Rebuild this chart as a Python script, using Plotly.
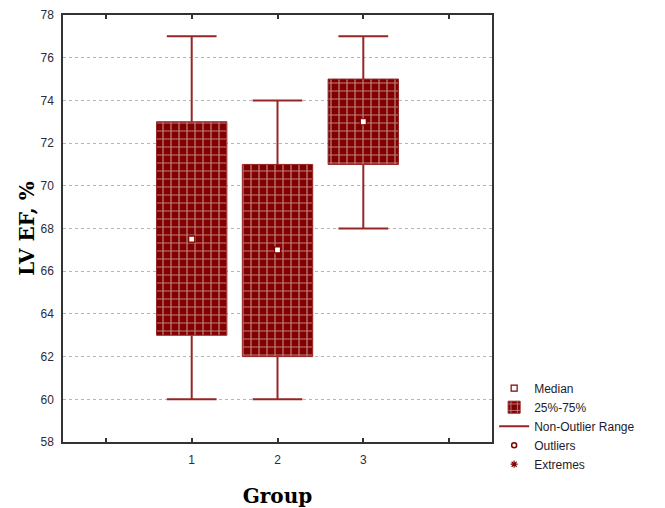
import plotly.graph_objects as go

# ---- data ----
groups = [1, 2, 3]
mins = [60, 60, 68]
q1 = [63, 62, 71]
medians = [67.5, 67, 73]
q3 = [73, 71, 75]
maxs = [77, 74, 77]
x_tickvals = [0, 1, 2, 3, 4]
x_ticktext = ["", "1", "2", "3", ""]

DARK = "#800000"
LINE = "#962626"
BOX_W = 0.82
CAP_HALF = 0.29

fig = go.Figure()

# 25%-75% boxes
fig.add_trace(go.Bar(
    x=groups, y=[b - a for a, b in zip(q1, q3)], base=q1, width=BOX_W,
    name="25%-75%", legendrank=2,
    marker=dict(color=DARK, line=dict(color=LINE, width=1),
                pattern=dict(shape="+", fgcolor="white", bgcolor=DARK,
                             size=8, solidity=0.28)),
    hoverinfo="skip",
))

# whiskers (non-outlier range)
wx, wy = [], []
for g, lo, a, b, hi in zip(groups, mins, q1, q3, maxs):
    wx += [g, g, None, g - CAP_HALF, g + CAP_HALF, None,
           g, g, None, g - CAP_HALF, g + CAP_HALF, None]
    wy += [b, hi, None, hi, hi, None,
           a, lo, None, lo, lo, None]
fig.add_trace(go.Scatter(
    x=wx, y=wy, mode="lines", name="Non-Outlier Range", legendrank=3,
    line=dict(color=LINE, width=2), hoverinfo="skip",
))

# medians
fig.add_trace(go.Scatter(
    x=groups, y=medians, mode="markers", name="Median", legendrank=1,
    marker=dict(symbol="square", size=6, color="white",
                line=dict(color=DARK, width=1.2)),
))

# outliers / extremes (none present)
fig.add_trace(go.Scatter(
    x=[None], y=[None], mode="markers", name="Outliers", legendrank=4,
    marker=dict(symbol="circle-open", size=5, color=DARK, line=dict(width=1.5)),
))
fig.add_trace(go.Scatter(
    x=[None], y=[None], mode="markers", name="Extremes", legendrank=5,
    marker=dict(symbol="asterisk-open", size=6, color=DARK, line=dict(width=1.2)),
))

tickfont = dict(family="Liberation Sans, Arial", size=12, color="#2b2b3b")
titlefont = dict(family="DejaVu Serif", size=20, color="black", weight="bold")

# page body adds an 8px offset, so the figure is sized/margined to compensate
fig.update_layout(
    width=657, height=500,
    margin=dict(l=55, r=173, t=7, b=66, autoexpand=False),
    paper_bgcolor="white", plot_bgcolor="white",
    showlegend=True,
    legend=dict(x=1.005, xanchor="left", y=0.16, yanchor="top",
                font=dict(family="Liberation Sans, Arial", size=12, color="#1c1c2c"),
                bgcolor="rgba(0,0,0,0)", tracegroupgap=0),
    xaxis=dict(range=[-0.5, 4.5], tickvals=x_tickvals, ticktext=x_ticktext,
               ticks="inside", ticklen=4, tickcolor="#333", tickwidth=1.5,
               showline=True, linecolor="#333", linewidth=1.5, mirror="ticks",
               showgrid=False, zeroline=False, tickfont=tickfont,
               ticklabelstandoff=6, automargin=False,
               title=dict(text="Group", font=titlefont, standoff=24)),
    yaxis=dict(range=[58, 78], dtick=2, tick0=58, ticks="",
               showline=True, linecolor="#333", linewidth=1.5, mirror=True,
               showgrid=True, gridcolor="#b5b5b5", griddash="dot", gridwidth=1,
               zeroline=False, tickfont=tickfont, ticklabelstandoff=5,
               automargin=False,
               title=dict(text="LV EF, %", font=titlefont, standoff=0)),
)

fig.write_html("out.html")
